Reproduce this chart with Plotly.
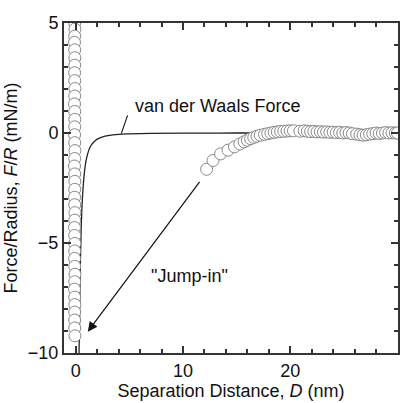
import plotly.graph_objects as go

# Approach branch near contact (column of points at D ~ 0)
contact_x = [-0.10, -0.08, -0.10, -0.12, -0.10, -0.09, -0.10, -0.11, -0.10, -0.08,
             -0.10, -0.12, -0.10, -0.09, -0.10, -0.11, -0.10, -0.08, -0.10, -0.12,
             -0.10, -0.09, -0.10, -0.11, -0.10, -0.08, -0.10, -0.12, -0.10, -0.09,
             -0.10, -0.11, -0.10, -0.08, -0.10, -0.12, -0.10, -0.09, -0.10, -0.11,
             -0.10, -0.08]
contact_y = [5.0, 4.72, 4.4, 4.12, 3.78, 3.42, 3.08, 2.74, 2.38, 2.02,
             1.68, 1.32, 0.98, 0.62, 0.28, -0.08, -0.44, -0.8, -1.16, -1.5,
             -1.86, -2.2, -2.56, -2.92, -3.26, -3.62, -3.96, -4.3, -4.66, -5.02,
             -5.36, -5.7, -6.06, -6.42, -6.76, -7.1, -7.46, -7.8, -8.14, -8.5,
             -8.86, -9.22]

# Approach branch at larger separations
far_x = [12.2, 12.8, 13.5, 14.2, 14.8, 15.3, 15.7, 16.0, 16.3, 16.6,
         16.9, 17.2, 17.6, 17.9, 18.2, 18.5, 18.8, 19.1, 19.4, 19.7,
         20.0, 20.3, 20.9, 21.3, 21.6, 21.9, 22.2, 22.5, 22.8, 23.1,
         23.4, 23.7, 24.0, 24.3, 24.6, 24.9, 25.2, 25.5, 25.8, 26.2,
         26.5, 26.8, 27.1, 27.4, 27.7, 28.0, 28.3, 28.6, 28.9, 29.2,
         29.5, 29.8, 30.0]
far_y = [-1.65, -1.25, -0.95, -0.78, -0.63, -0.5, -0.4, -0.33, -0.26, -0.2,
         -0.15, -0.1, -0.06, -0.03, 0.0, 0.03, 0.05, 0.07, 0.08, 0.09,
         0.1, 0.1, 0.08, 0.1, 0.08, 0.06, 0.07, 0.05, 0.06, 0.04,
         0.05, 0.03, 0.04, 0.02, 0.03, 0.0, 0.02, 0.0, -0.03, -0.05,
         -0.08, -0.1, -0.08, -0.05, -0.03, 0.0, -0.02, 0.0, 0.02, 0.0,
         0.01, 0.0, 0.0]

# van der Waals curve
vdw_x = [0.3, 0.35, 0.4, 0.5, 0.6, 0.7, 0.8, 0.9, 1.0, 1.2, 1.4, 1.7, 2.0,
         2.5, 3.0, 4.0, 5.0, 7.0, 10.0, 15.0, 20.0, 30.0]
vdw_y = [-10.0, -8.6, -6.7, -4.4, -3.1, -2.35, -1.8, -1.42, -1.15, -0.8, -0.58,
         -0.4, -0.28, -0.18, -0.12, -0.06, -0.04, -0.02, -0.01, 0.0, 0.0, 0.0]

FONT = "Liberation Sans, Arial, sans-serif"
AX = "#333333"

fig = go.Figure()
fig.add_trace(go.Scatter(x=vdw_x, y=vdw_y, mode="lines",
                         line=dict(color="#222222", width=1.3, shape="spline"),
                         showlegend=False))
fig.add_trace(go.Scatter(x=far_x, y=far_y, mode="markers",
                         marker=dict(symbol="circle", size=12, color="white",
                                     line=dict(color="#888888", width=1)),
                         showlegend=False))
fig.add_trace(go.Scatter(x=contact_x, y=contact_y, mode="markers",
                         marker=dict(symbol="circle", size=12, color="white",
                                     line=dict(color="#888888", width=1)),
                         showlegend=False))

# leader line for the van der Waals label
fig.add_shape(type="line", x0=4.83, y0=0.8, x1=4.24, y1=-0.03,
              line=dict(color="#222222", width=1.2))

fig.add_annotation(x=13.2, y=1.25, text="van der Waals Force", showarrow=False,
                   font=dict(family=FONT, size=18, color="#111111"))
fig.add_annotation(x=10.6, y=-6.5, text="\"Jump-in\"", showarrow=False,
                   font=dict(family=FONT, size=18, color="#111111"))
fig.add_annotation(x=1.12, y=-9.03, ax=11.65, ay=-2.15, axref="x", ayref="y",
                   xref="x", yref="y", text="", showarrow=True,
                   arrowhead=2, arrowsize=1.6, arrowwidth=1.2, arrowcolor="#111111")

fig.update_xaxes(range=[-1.1, 30.05], tickmode="linear", tick0=0, dtick=10,
                 automargin=False, showgrid=False, zeroline=False,
                 showline=True, linecolor=AX, linewidth=2, mirror="ticks",
                 ticks="inside", ticklen=7, tickwidth=2, tickcolor=AX,
                 tickfont=dict(family=FONT, size=18, color="#111111"),
                 minor=dict(dtick=2, tick0=0, ticks="inside", ticklen=4,
                            tickwidth=2, tickcolor=AX, showgrid=False),
                 title=dict(text="Separation Distance, <i>D</i> (nm)",
                            font=dict(family=FONT, size=18, color="#111111"),
                            standoff=4))
fig.update_yaxes(range=[-10, 5], tickmode="linear", tick0=0, dtick=5,
                 automargin=False, showgrid=False, zeroline=False,
                 showline=True, linecolor=AX, linewidth=2, mirror="ticks",
                 ticks="inside", ticklen=7, tickwidth=2, tickcolor=AX,
                 tickfont=dict(family=FONT, size=18, color="#111111"),
                 minor=dict(dtick=1, tick0=0, ticks="inside", ticklen=4,
                            tickwidth=2, tickcolor=AX, showgrid=False),
                 title=dict(text="Force/Radius, <i>F</i>/<i>R</i> (mN/m)",
                            font=dict(family=FONT, size=18, color="#111111"),
                            standoff=6))

fig.update_layout(width=406, height=403,
                  margin=dict(l=64, r=8, t=23, b=50),
                  plot_bgcolor="white")

fig.write_html("out.html")
